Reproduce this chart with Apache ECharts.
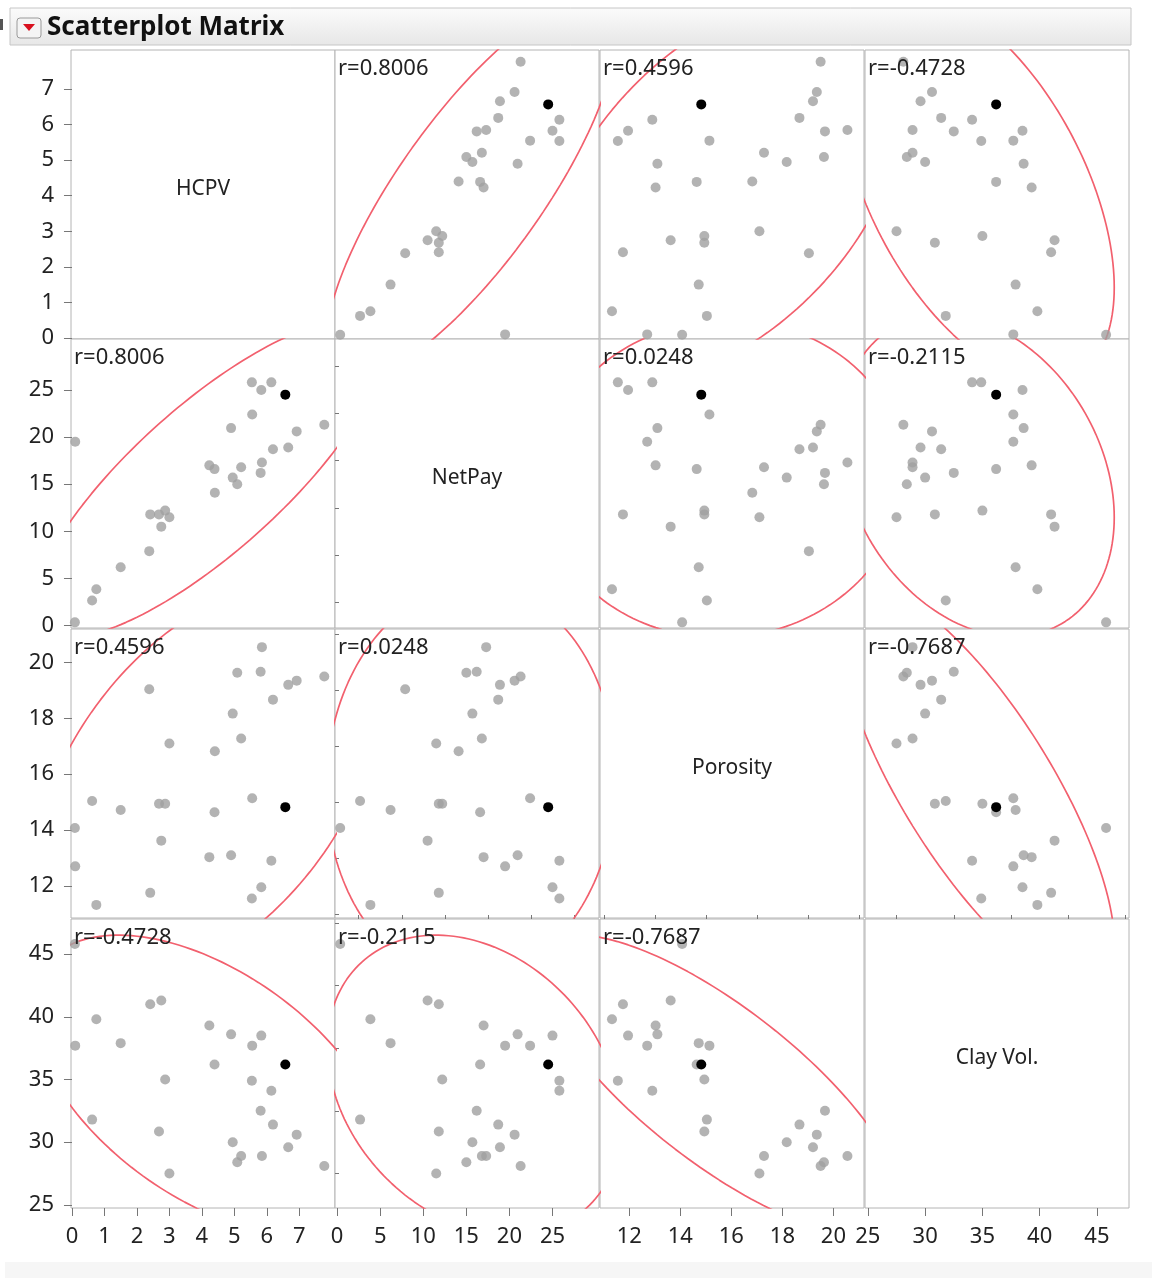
<!DOCTYPE html>
<html>
<head>
<meta charset="utf-8">
<script src="https://cdn.jsdelivr.net/npm/echarts@6/dist/echarts.min.js"></script>
<style>
html, body { margin: 0; padding: 0; background: #fff; }
#matrix { width: 1152px; height: 1278px; }
</style>
</head>
<body>
<div id="matrix"></div>
<script>
  // variables, in matrix order
  var varNames = ['HCPV', 'NetPay', 'Porosity', 'Clay Vol.']
  var hcpv     = [0.09, 2.75, 2.41, 0.75, 4.23, 4.90, 5.83, 0.10, 5.55, 1.50, 4.39, 6.57, 2.87, 5.54, 6.14, 5.81, 0.62, 6.19, 2.68, 6.92, 4.95, 6.66, 5.21, 5.85, 5.09, 7.77, 3.00, 4.40, 2.38]
  var netPay   = [0.35, 10.5, 11.8, 3.86, 17.0, 20.95, 25.0, 19.5, 22.4, 6.2, 16.6, 24.5, 12.2, 25.8, 25.8, 16.2, 2.66, 18.7, 11.8, 20.6, 15.7, 18.9, 16.8, 17.3, 15.0, 21.3, 11.5, 14.1, 7.9]
  var porosity = [14.07, 13.62, 11.75, 11.32, 13.03, 13.1, 11.95, 12.7, 15.14, 14.72, 14.64, 14.82, 14.94, 11.55, 12.9, 19.67, 15.04, 18.67, 14.94, 19.35, 18.17, 19.2, 17.28, 20.55, 19.63, 19.5, 17.1, 16.82, 19.04]
  var clayVol  = [45.8, 41.3, 41.0, 39.8, 39.3, 38.6, 38.5, 37.7, 37.7, 37.9, 36.2, 36.2, 35.0, 34.9, 34.1, 32.5, 31.8, 31.4, 30.85, 30.6, 30.0, 29.6, 28.9, 28.9, 28.4, 28.1, 27.5, null, null]
  var selectedRow = 11

  // axis ranges and tick labels per variable
  var axisMin = [-0.03, -0.25, 10.85, 24.75]
  var axisMax = [8.1, 30.4, 21.2, 47.8]
  var hcpvTicks = [0, 1, 2, 3, 4, 5, 6, 7]
  var netPayTicks = [0, 5, 10, 15, 20, 25]
  var porosityTicks = [12, 14, 16, 18, 20]
  var clayTicks = [25, 30, 35, 40, 45]
  var hcpvMinor = []
  var netPayMinor = [2.5, 7.5, 12.5, 17.5, 22.5, 27.5]
  var porosityMinor = [11, 13, 15, 17, 19, 21]
  var clayMinor = [27.5, 32.5, 37.5, 42.5, 47.5]

  // correlation labels, upper triangle
  var rText = {
    '0-1': 'r=0.8006', '0-2': 'r=0.4596', '0-3': 'r=-0.4728',
    '1-2': 'r=0.0248', '1-3': 'r=-0.2115', '2-3': 'r=-0.7687'
  }
  var ellipseCoverage = 0.95

  var columns = [hcpv, netPay, porosity, clayVol]
  var majorTicks = [hcpvTicks, netPayTicks, porosityTicks, clayTicks]
  var minorTicks = [hcpvMinor, netPayMinor, porosityMinor, clayMinor]

  var colLeft = [71, 335, 600, 865]
  var rowTop = [50, 339, 629, 919]
  var cellW = 264
  var cellH = 289
  var font = 'Noto Sans'
  var ellipseColor = '#f2606e'

  function ellipsePoints(xs, ys) {
    var px = [], py = []
    for (var i = 0; i < xs.length; i++) {
      if (xs[i] == null || ys[i] == null) continue
      px.push(xs[i]); py.push(ys[i])
    }
    var n = px.length, mx = 0, my = 0
    for (var i = 0; i < n; i++) { mx += px[i]; my += py[i] }
    mx /= n; my /= n
    var sxx = 0, syy = 0, sxy = 0
    for (var i = 0; i < n; i++) {
      sxx += (px[i] - mx) * (px[i] - mx)
      syy += (py[i] - my) * (py[i] - my)
      sxy += (px[i] - mx) * (py[i] - my)
    }
    var sx = Math.sqrt(sxx / (n - 1)), sy = Math.sqrt(syy / (n - 1))
    var r = sxy / Math.sqrt(sxx * syy)
    var k = Math.sqrt(-2 * Math.log(1 - ellipseCoverage))
    var pts = []
    for (var d = 0; d <= 360; d += 2) {
      var t = d * Math.PI / 180
      pts.push([mx + k * sx * Math.cos(t),
                my + k * sy * (r * Math.cos(t) + Math.sqrt(1 - r * r) * Math.sin(t))])
    }
    return pts
  }

  var grids = [], xAxes = [], yAxes = [], series = [], graphics = []

  for (var i = 0; i < 4; i++) {
    for (var j = 0; j < 4; j++) {
      var g = i * 4 + j
      grids.push({
        left: colLeft[j], top: rowTop[i], width: cellW, height: cellH,
        show: true, borderColor: '#b4b4b4', borderWidth: 1, backgroundColor: '#fff'
      })
      xAxes.push({
        gridIndex: g, type: 'value', min: axisMin[j], max: axisMax[j],
        axisLine: { show: false }, splitLine: { show: false },
        axisTick: { show: i === 3, length: 8, customValues: majorTicks[j], lineStyle: { color: '#777' } },
        axisLabel: { show: i === 3, margin: 18, customValues: majorTicks[j],
          fontFamily: font, fontSize: 22, color: '#222' }
      })
      yAxes.push({
        gridIndex: g, type: 'value', min: axisMin[i], max: axisMax[i],
        axisLine: { show: false }, splitLine: { show: false },
        axisTick: { show: j === 0, length: 8, customValues: majorTicks[i], lineStyle: { color: '#777' } },
        axisLabel: { show: j === 0, margin: 17, customValues: majorTicks[i],
          fontFamily: font, fontSize: 22, color: '#222' }
      })

      if (i === j) {
        graphics.push({
          type: 'text', x: colLeft[j] + cellW / 2, y: rowTop[i] + cellH / 2 - 5,
          style: { text: varNames[i], font: '21px ' + font, fill: '#222',
            align: 'center', verticalAlign: 'middle' }, z: 100
        })
        continue
      }

      var xs = columns[j], ys = columns[i]
      var grey = [], black = []
      for (var k = 0; k < xs.length; k++) {
        if (xs[k] == null || ys[k] == null) continue
        if (k === selectedRow) black.push([xs[k], ys[k]])
        else grey.push([xs[k], ys[k]])
      }
      series.push({
        type: 'line', xAxisIndex: g, yAxisIndex: g, data: ellipsePoints(xs, ys),
        showSymbol: false, clip: true, silent: true, z: 2,
        lineStyle: { color: ellipseColor, width: 1.7 }
      })
      series.push({
        type: 'scatter', xAxisIndex: g, yAxisIndex: g, data: grey,
        symbolSize: 10, itemStyle: { color: '#a0a0a0' }, z: 3
      })
      series.push({
        type: 'scatter', xAxisIndex: g, yAxisIndex: g, data: black,
        symbolSize: 10, itemStyle: { color: '#000', opacity: 1 }, z: 4
      })

      var a = Math.min(i, j), b = Math.max(i, j)
      graphics.push({
        type: 'text', x: colLeft[j] + 3, y: rowTop[i] + 8,
        style: { text: rText[a + '-' + b], font: '22px ' + font, fill: '#222' }, z: 100
      })
    }
  }

  // shorter minor ticks on the outer axes
  for (var j = 0; j < 4; j++) {
    if (!minorTicks[j].length) continue
    xAxes.push({
      gridIndex: 12 + j, type: 'value', min: axisMin[j], max: axisMax[j],
      axisLine: { show: false }, splitLine: { show: false }, axisLabel: { show: false },
      axisTick: { show: true, length: 4, customValues: minorTicks[j], lineStyle: { color: '#777' } }
    })
  }
  for (var i = 0; i < 4; i++) {
    if (!minorTicks[i].length) continue
    yAxes.push({
      gridIndex: i * 4, type: 'value', min: axisMin[i], max: axisMax[i],
      axisLine: { show: false }, splitLine: { show: false }, axisLabel: { show: false },
      axisTick: { show: true, length: 4, customValues: minorTicks[i], lineStyle: { color: '#777' } }
    })
  }

  // outline header bar and window edges
  graphics.push({
    type: 'rect', shape: { x: 5, y: 1262, width: 1147, height: 16 },
    style: { fill: '#f6f6f6' }, z: -1
  })
  graphics.push({
    type: 'rect', shape: { x: 0, y: 19, width: 3, height: 11 },
    style: { fill: '#555' }
  })
  graphics.push({
    type: 'rect', shape: { x: 10, y: 8, width: 1121, height: 37 },
    style: {
      fill: new echarts.graphic.LinearGradient(0, 0, 0, 1, [
        { offset: 0, color: '#fbfbfb' }, { offset: 1, color: '#e7e7e7' }]),
      stroke: '#c6c6c6', lineWidth: 1
    }
  })
  graphics.push({
    type: 'rect', shape: { x: 17, y: 18, width: 24, height: 20, r: 3 },
    style: { fill: '#f4f4f4', stroke: '#9a9a9a', lineWidth: 1 }, z: 101
  })
  graphics.push({
    type: 'polygon', shape: { points: [[23, 24], [35, 24], [29, 31]] },
    style: { fill: '#d8101e' }, z: 102
  })
  graphics.push({
    type: 'text', x: 47, y: 28,
    style: { text: 'Scatterplot Matrix', font: 'bold 26px ' + font, fill: '#111',
      verticalAlign: 'middle' }, z: 101
  })

  var chart = echarts.init(document.getElementById('matrix'))
  chart.setOption({
    animation: false,
    backgroundColor: '#fff',
    grid: grids,
    xAxis: xAxes,
    yAxis: yAxes,
    series: series,
    graphic: graphics
  })
</script>
</body>
</html>
